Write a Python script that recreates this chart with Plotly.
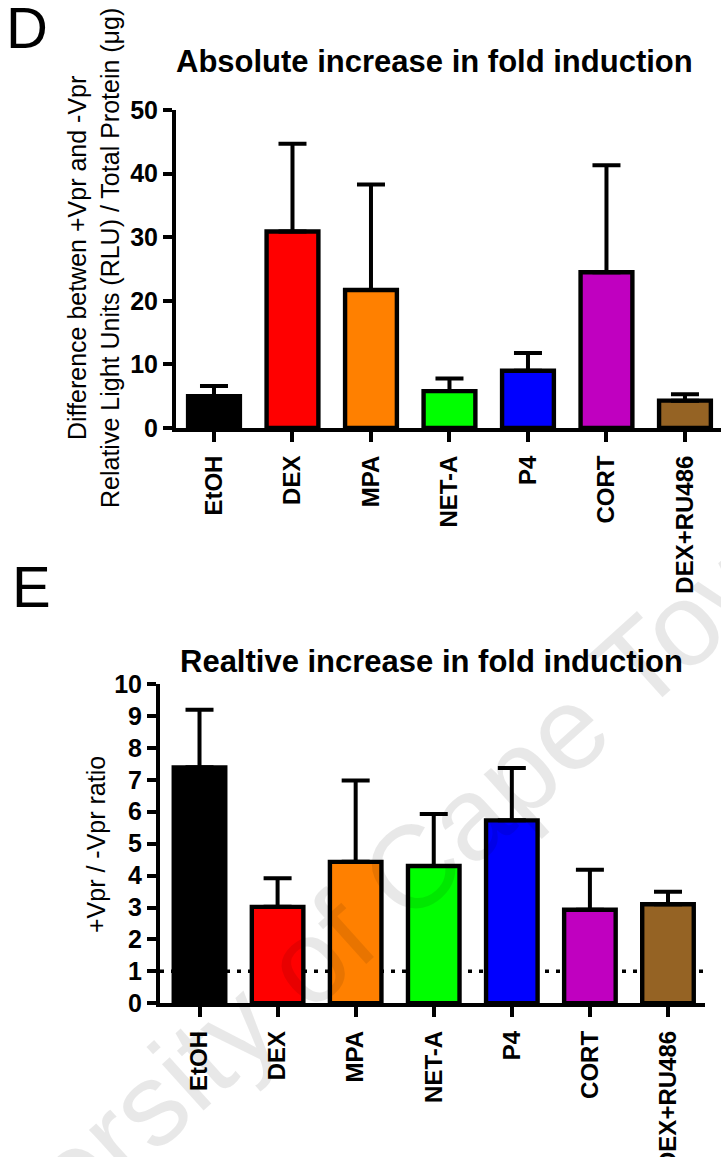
import plotly.graph_objects as go

W, H = 721, 1157

categories = ["EtOH", "DEX", "MPA", "NET-A", "P4", "CORT", "DEX+RU486"]
bar_colors = ["#000000", "#FF0000", "#FF8000", "#00FF00", "#0000FF", "#C000C0", "#956324"]

# Panel D: absolute increase (mean, upper error)
abs_mean = [5.0, 30.9, 21.7, 5.8, 9.0, 24.5, 4.3]
abs_err = [1.6, 13.8, 16.6, 2.0, 2.8, 16.8, 1.0]

# Panel E: relative increase (mean, upper error)
rel_mean = [7.39, 3.02, 4.43, 4.30, 5.73, 2.93, 3.10]
rel_err = [1.80, 0.90, 2.55, 1.63, 1.64, 1.25, 0.39]

abs_ticks = [0, 10, 20, 30, 40, 50]
rel_ticks = [0, 1, 2, 3, 4, 5, 6, 7, 8, 9, 10]
reference_level = 1

FONT = "Liberation Sans, Arial, Helvetica, sans-serif"


def px_x(p):
    return p / W


def px_y(p):
    return 1 - p / H


def bar_trace(vals, errs, xa, ya):
    return go.Bar(
        x=categories, y=vals, xaxis=xa, yaxis=ya,
        width=0.66,
        marker=dict(color=bar_colors, line=dict(color="black", width=4.4)),
        error_y=dict(type="data", array=errs, arrayminus=[0] * len(errs),
                     symmetric=False, thickness=4, width=14, color="black"),
        showlegend=False, hoverinfo="skip",
    )


fig = go.Figure()
fig.add_trace(bar_trace(abs_mean, abs_err, "x", "y"))
fig.add_trace(bar_trace(rel_mean, rel_err, "x2", "y2"))

xcommon = dict(type="category", showline=True, linecolor="black", linewidth=4,
               ticks="outside", ticklen=10, tickwidth=4, tickcolor="black",
               tickangle=-90, showgrid=False, zeroline=False, automargin=False,
               ticklabelstandoff=4,
               tickfont=dict(family=FONT, size=24, color="black", weight="bold"))
ycommon = dict(showline=True, linecolor="black", linewidth=4,
               ticks="outside", ticklen=9, tickwidth=4, tickcolor="black",
               showgrid=False, zeroline=False, automargin=False,
               tickfont=dict(family=FONT, size=25, color="black", weight="bold"))

fig.update_layout(
    width=W, height=H, template="none",
    margin=dict(l=0, r=0, t=0, b=0, pad=0),
    paper_bgcolor="white", plot_bgcolor="rgba(0,0,0,0)",
    xaxis=dict(xcommon, domain=[px_x(176), px_x(721)], range=[-0.484, 6.459], anchor="y"),
    yaxis=dict(ycommon, domain=[px_y(428), px_y(110)], range=[0, 50], tickvals=abs_ticks, anchor="x"),
    xaxis2=dict(xcommon, domain=[px_x(160), px_x(705)], range=[-0.506, 6.474], anchor="y2"),
    yaxis2=dict(ycommon, domain=[px_y(1003.3), px_y(684)], range=[0, 10], tickvals=rel_ticks, anchor="x2"),
)

# dotted reference line at ratio 1
fig.add_shape(type="line", xref="x2 domain", yref="y2", x0=0, x1=1,
              y0=reference_level, y1=reference_level, layer="below",
              line=dict(color="black", width=3.5, dash="4px,7px"))

ann = []
# panel letters
ann.append(dict(text="D", x=px_x(4), y=px_y(-7), xanchor="left", yanchor="top",
                font=dict(family=FONT, size=58, color="black")))
ann.append(dict(text="E", x=px_x(10), y=px_y(552), xanchor="left", yanchor="top",
                font=dict(family=FONT, size=58, color="black")))
# titles
ann.append(dict(text="Absolute increase in fold induction", x=px_x(435), y=px_y(62),
                xanchor="center", yanchor="middle",
                font=dict(family=FONT, size=31, color="black", weight="bold")))
ann.append(dict(text="Realtive increase in fold induction", x=px_x(432), y=px_y(662),
                xanchor="center", yanchor="middle",
                font=dict(family=FONT, size=31, color="black", weight="bold")))
# y axis titles
ann.append(dict(text="Difference betwen +Vpr and -Vpr<br>Relative Light Units (RLU) / Total Protein (\u03bcg)",
                x=px_x(94), y=px_y(258), xanchor="center", yanchor="middle", textangle=-90,
                font=dict(family=FONT, size=25, color="black")))
ann.append(dict(text="+Vpr / -Vpr ratio", x=px_x(96), y=px_y(845),
                xanchor="center", yanchor="middle", textangle=-90,
                font=dict(family=FONT, size=25, color="black")))
# watermark
ann.append(dict(text="University of Cape Town", x=px_x(345), y=px_y(928),
                xanchor="center", yanchor="middle", textangle=-42,
                font=dict(family=FONT, size=118, color="rgba(0,0,0,0.09)")))

for a in ann:
    a.update(xref="paper", yref="paper", showarrow=False)
fig.update_layout(annotations=ann)

fig.write_html("out.html")
